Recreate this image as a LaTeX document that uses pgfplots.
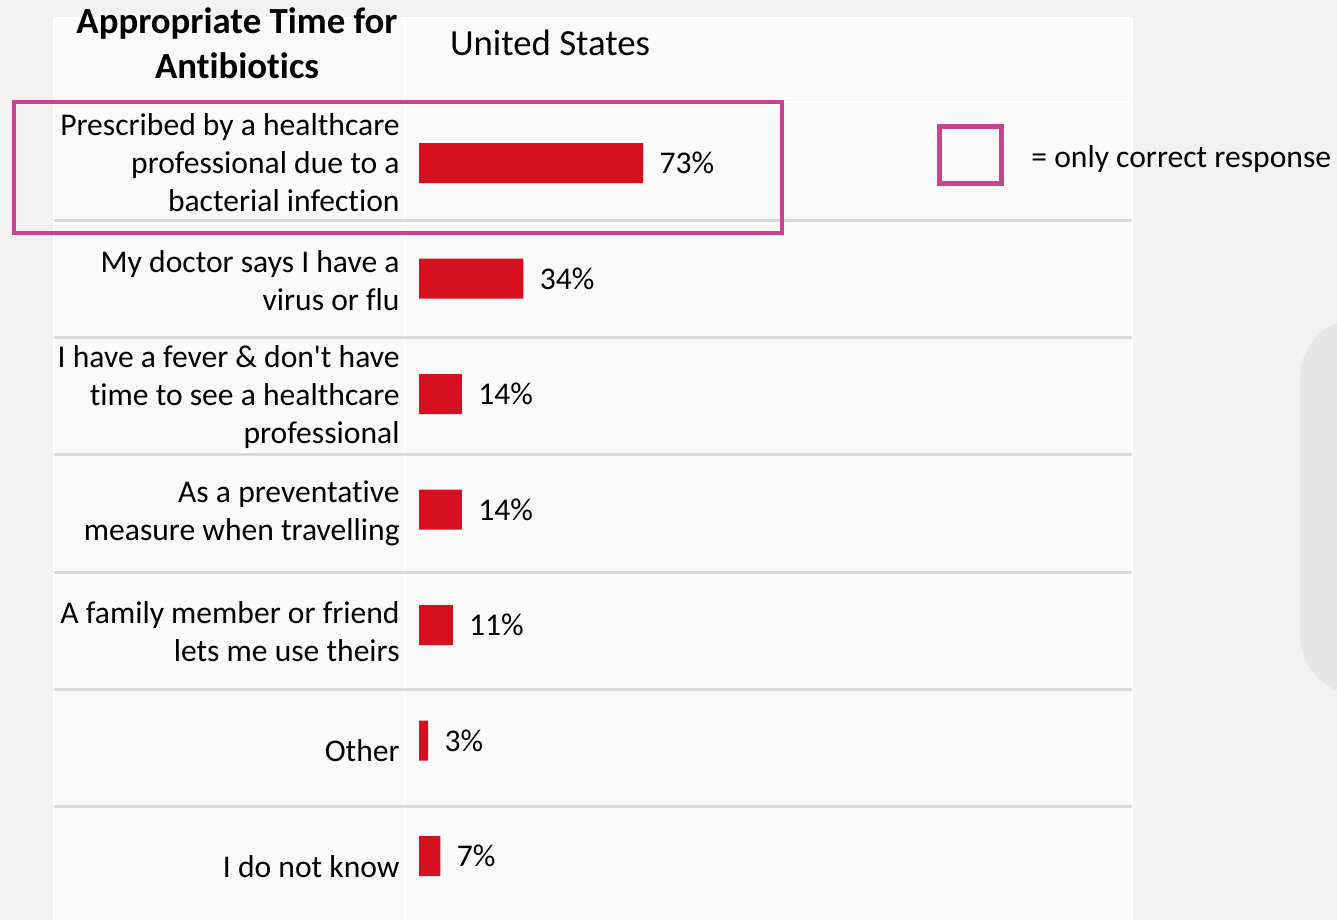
\documentclass[border=0pt]{standalone}
\usepackage{pgfplots}
\pgfplotsset{compat=1.18}
\usepackage{fontspec}
\setmainfont{Carlito}[Ligatures={NoCommon}]
\definecolor{barred}{RGB}{215,16,32}
\definecolor{mag}{RGB}{200,68,143}
\definecolor{gridgray}{RGB}{217,217,217}
\definecolor{bgA}{RGB}{242,242,242}
\definecolor{bgB}{RGB}{250,250,250}
\definecolor{shapegray}{RGB}{230,230,230}
\newcommand{\lblfont}{\fontsize{15.8}{19}\selectfont}
\begin{document}
\begin{tikzpicture}
\begin{scope}[x=0.5pt,y=-0.5pt]
\useasboundingbox (0,0) rectangle (1337,920);
\clip (0,0) rectangle (1337,920);
\fill[bgA] (0,0) rectangle (1337,920);
\fill[bgB] (54,18) rectangle (1132,920);
\draw[white, line width=1pt] (54,18) -- (54,920) (405,18) -- (405,920) (1132,18) -- (1132,920) (54,102) -- (1132,102) (54,18) -- (1132,18);
\fill[shapegray, rounded corners=30pt] (1300,318) rectangle (1420,695);
\foreach \yy in {220,337,454,572,689,806} \draw[gridgray, line width=1.5pt] (54,\yy) -- (1132,\yy);
\node[font=\bfseries\fontsize{18.4}{22.5}\selectfont, anchor=base, inner sep=0pt] at (237,34) {Appropriate Time for};
\node[font=\bfseries\fontsize{18.4}{22.5}\selectfont, anchor=base, inner sep=0pt] at (237,79) {Antibiotics};
\node[font=\fontsize{18.4}{22}\selectfont, anchor=base, inner sep=0pt] at (550,56) {United States};
\draw[mag, line width=2pt] (14,102) rectangle (782,233);
\draw[mag, line width=2.5pt] (939.5,126.5) rectangle (1001.5,183.5);
\node[font=\lblfont, anchor=base west, inner sep=0pt] at (1031,167) {= only correct response};
\end{scope}
\begin{axis}[
  at={(209.5pt,-52.625pt)}, anchor=north west,
  scale only axis, width=153.5pt, height=404.25pt,
  xbar, bar width=20pt,
  xmin=0, xmax=100, ymin=-0.5, ymax=6.5, y dir=reverse,
  axis line style={draw=none},
  xtick=\empty,
  ytick={0,1.02,2.03,3.03,4.06,5.09,6.09},
  yticklabels={{Prescribed by a healthcare\\professional due to a\\bacterial infection},
    {My doctor says I have a\\virus or flu},
    {I have a fever \& don\textquotesingle t have\\time to see a healthcare\\professional},
    {As a preventative\\measure when travelling},
    {A family member or friend\\lets me use theirs},
    {Other},
    {I do not know}},
  major tick length=0pt,
  yticklabel style={align=right, font=\lblfont, inner sep=0pt, xshift=-9.5pt},
  /pgf/number format/assume math mode=true,
  nodes near coords={\pgfmathprintnumber{\pgfplotspointmeta}\%},
  every node near coord/.append style={font=\lblfont, inner sep=0pt, xshift=8pt, text=black},
  clip=false,
]
\addplot[fill=barred, draw=none] coordinates {(73,0) (34,1) (14,2) (14,3) (11,4) (3,5) (7,6)};
\end{axis}
\end{tikzpicture}
\end{document}
